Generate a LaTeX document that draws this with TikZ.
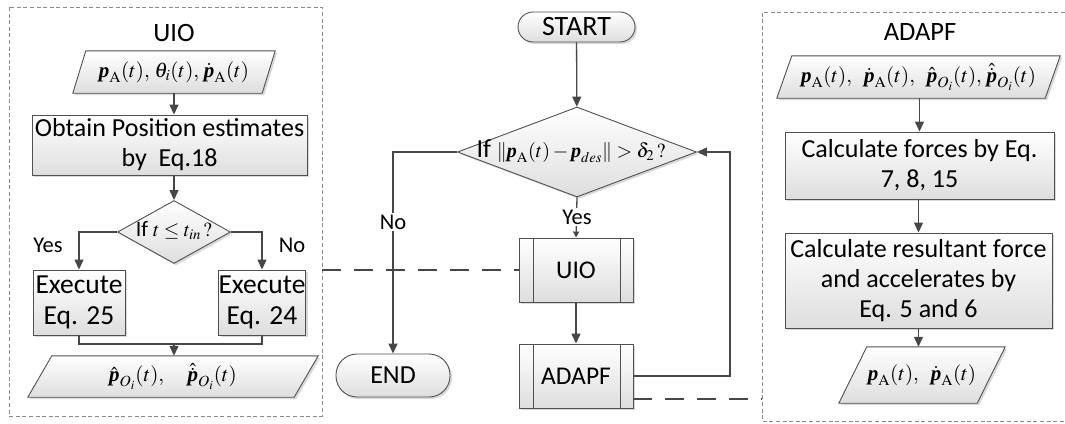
\documentclass[tikz,border=0pt]{standalone}
\usepackage{amsmath}
\usepackage{mathptmx}
\usepackage[no-math]{fontspec}
\setmainfont{Carlito}
\newfontfamily\tnr{Liberation Serif}
\usetikzlibrary{arrows.meta,shapes.geometric,shadows,backgrounds}

% bold italic vector p, as set by the equation editor
\newcommand{\bp}{\text{\tnr\bfseries\itshape p}}
\newcommand{\sA}{\mathrm{A}}
% smaller size for formulas inside the decisions
\newcommand{\fm}[1]{{\fontsize{20}{24}\selectfont$#1$}}

\definecolor{linec}{HTML}{474747}
\definecolor{boxc}{HTML}{505050}
\definecolor{framec}{HTML}{8A8A8A}

% parallelogram behind a text node: #1 node name, #2 horizontal slant
\newcommand{\para}[2]{%
  \begin{scope}[on background layer]
    \path[paral] ([xshift=#2/2]#1.north west) -- ([xshift=#2/2]#1.north east)
      -- ([xshift=-#2/2]#1.south east) -- ([xshift=-#2/2]#1.south west) -- cycle;
  \end{scope}}

\begin{document}
\begin{tikzpicture}[x=1pt,y=-1pt,
  shade box/.style={top color=white, bottom color=black!13,
    drop shadow={shadow xshift=2pt, shadow yshift=-2pt, opacity=0.25, fill=black!60}},
  box/.style={shade box, draw=boxc, line width=0.9pt, inner sep=0pt, align=center,
    font=\fontsize{26}{30}\selectfont},
  procbox/.style={box},
  subproc/.style={box, font=\fontsize{25.5}{30}\selectfont, path picture={
      \draw[boxc, line width=0.9pt]
        ([xshift=14pt]path picture bounding box.north west) -- ([xshift=14pt]path picture bounding box.south west)
        ([xshift=-13pt]path picture bounding box.north east) -- ([xshift=-13pt]path picture bounding box.south east);}},
  term/.style={box, rounded corners=21pt},
  decision/.style={shape=diamond, shade box, draw=boxc, line width=0.9pt, inner sep=0pt},
  paral/.style={shade box, draw=boxc, line width=0.9pt},
  ptext/.style={inner sep=0pt, font=\fontsize{21}{24}\selectfont},
  mtext/.style={inner sep=0pt, font=\fontsize{26}{30}\selectfont},
  title/.style={inner sep=0pt, font=\fontsize{26.5}{30}\selectfont},
  lab/.style={inner sep=1.5pt, fill=white, font=\fontsize{22.5}{24}\selectfont},
  line/.style={draw=linec, line width=1.3pt},
  arr/.style={line, -{Triangle[length=10pt,width=9pt]}},
  smallarr/.style={line, -{Triangle[length=6pt,width=6pt]}},
  frame/.style={draw=framec, line width=0.9pt, dash pattern=on 4pt off 2.6pt},
  dcon/.style={draw=linec, line width=1.2pt, dash pattern=on 19pt off 13pt}]

\useasboundingbox (0,0) rectangle (1065,423);

% ---------- group frames ----------
\draw[frame] (9,7) rectangle (322,416);
\draw[frame] (1065,12) -- (762,12) -- (762,421) -- (1065,421);

% ---------- UIO block ----------
\node[title] (tUIO) at (174,33) {UIO};
\node[ptext, minimum width=189pt, minimum height=42pt] (L1) at (174,72)
  {$\bp_{\sA}(t),\, \theta_i(t),\, \dot{\bp}_{\sA}(t)$};
\para{L1}{13pt}
\node[procbox, minimum width=275pt, minimum height=60pt] (obtain) at (169.5,145)
  {Obtain Position estimates\\by\ \ Eq.18};
\node[decision, minimum width=113pt, minimum height=63pt] (dL) at (174,232) {};
\node[mtext, font=\fontsize{22}{26}\selectfont] (dLt) at (174,231) {If \fm{t \le t_{in}\,?}};
\node[procbox, font=\fontsize{27.5}{31}\selectfont, minimum width=92pt, minimum height=65pt] (e25) at (79,302.5) {Execute\\Eq. 25};
\node[procbox, font=\fontsize{27.5}{31}\selectfont, minimum width=87pt, minimum height=65pt] (e24) at (262,302.5) {Execute\\Eq. 24};
\node[ptext, minimum width=266pt, minimum height=41pt] (L2) at (173,376.5)
  {$\hat{\bp}_{O_i}(t), \quad \hat{\dot{\bp}}_{O_i}(t)$};
\para{L2}{24pt}
\coordinate (join) at (174,344);

\draw[arr] (L1.south -| obtain.north) ++(4.5,0) -- ([xshift=4.5pt]obtain.north);
\draw[arr] ([xshift=4.5pt]obtain.south) -- (dL.north);
\draw[arr] (dL.west) -| (e25.north);
\draw[arr] (dL.east) -| (e24.north);
\node[lab] (yL) at (48,245) {Yes};
\node[lab] (nL) at (292,245) {No};
\draw[line] (e25.south) |- (join) -| (e24.south);
\draw[arr] (join) -- (join |- L2.north);

% ---------- main flow ----------
\node[term, font=\fontsize{28}{30}\selectfont, minimum width=117pt, minimum height=30pt, rounded corners=15pt] (start) at (576.5,27) {START};
\node[decision, minimum width=239pt, minimum height=90pt] (dC) at (577,152) {};
\node[mtext] (dCt) at (571,151)
  {If \fm{\left\|\bp_{\sA}(t)-\bp_{des}\right\| > \delta_2\,?}};
\node[subproc, minimum width=114pt, minimum height=64pt] (uio) at (576,270) {UIO};
\node[subproc, minimum width=114pt, minimum height=64pt] (adapf) at (576,376) {ADAPF};
\node[term, minimum width=114pt, minimum height=43pt] (end) at (393,375.5) {END};
\coordinate (fb) at (730,376);

\draw[arr] (start) -- (dC);
\draw[arr] (dC.west) -| (end.north);
\draw[smallarr] (dC.south) -- (uio.north);
\node[lab] (nC) at (393,222) {No};
\node[lab] (yC) at (577,217) {Yes};
\draw[arr] (uio) -- (adapf);
\draw[arr] (adapf.east) -- (fb) |- (dC.east);

% links from the sub-processes to their detail frames
\coordinate (lbR) at (322,270);
\coordinate (rbL) at (762,399);
\draw[dcon] (lbR) -- (uio.west);
\draw[dcon] (adapf.east |- rbL) -- (rbL);

% ---------- ADAPF block ----------
\node[title] (tAD) at (920,32) {ADAPF};
\node[ptext, minimum width=268pt, minimum height=42pt] (R1) at (918.5,77)
  {$\bp_{\sA}(t),\ \ \dot{\bp}_{\sA}(t),\ \ \hat{\bp}_{O_i}(t),\, \hat{\dot{\bp}}_{O_i}(t)$};
\para{R1}{15pt}
\node[procbox, minimum width=269pt, minimum height=67pt] (forces) at (919.5,165.5)
  {Calculate forces by Eq.\\7, 8, 15};
\node[procbox, minimum width=267pt, minimum height=95pt] (result) at (918.5,280.5)
  {Calculate resultant force\\and accelerates by\\Eq. 5 and 6};
\node[ptext, minimum width=138pt, minimum height=56pt] (R2) at (922,375)
  {$\bp_{\sA}(t),\ \ \dot{\bp}_{\sA}(t)$};
\para{R2}{28pt}

\draw[arr] (R1.south -| forces.north) -- (forces.north);
\draw[arr] (forces.south -| result.north) -- (result.north);
\draw[arr] (result.south) -- (result.south |- R2.north);
\end{tikzpicture}
\end{document}
